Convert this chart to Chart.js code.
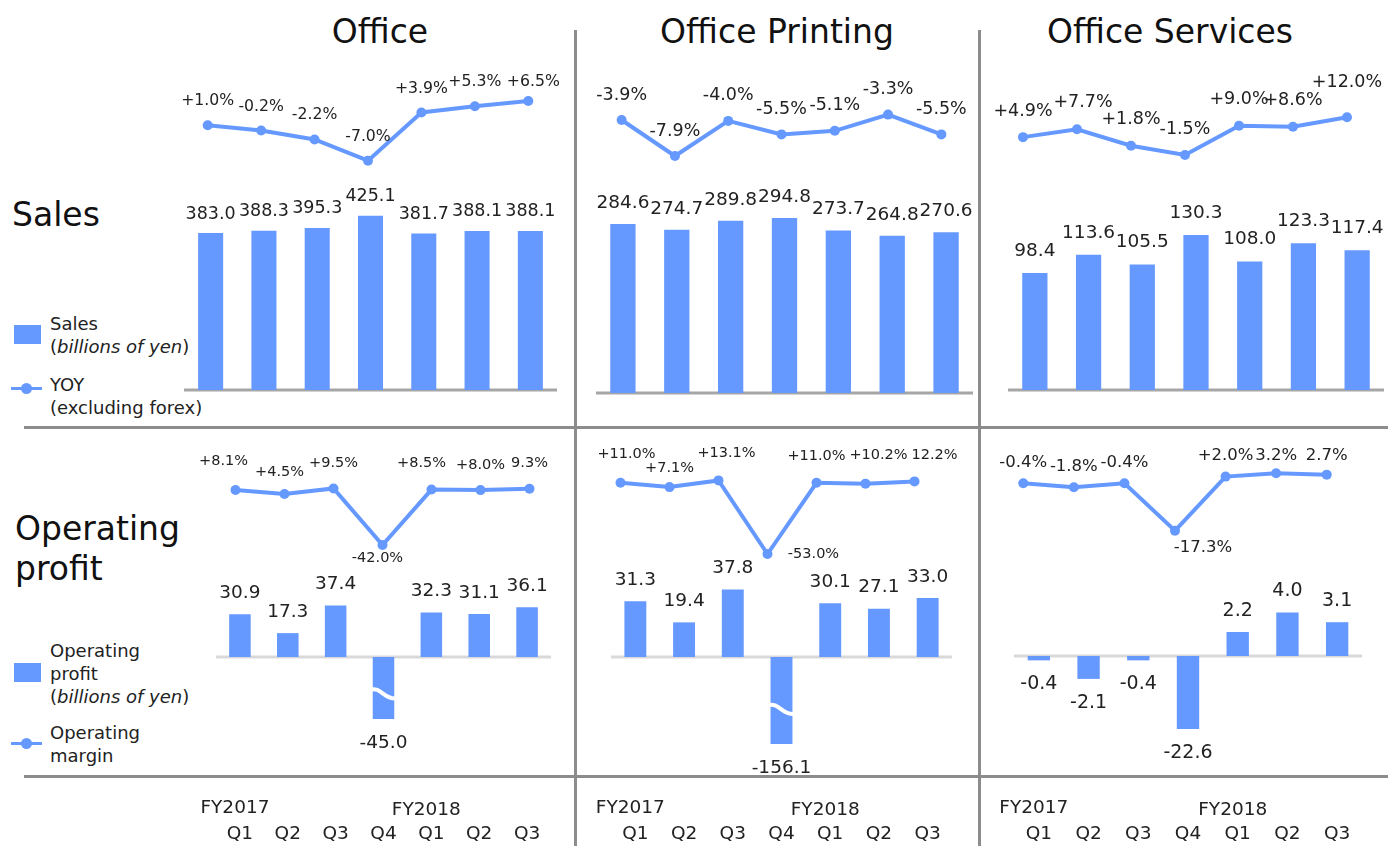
<!DOCTYPE html>
<html>
<head>
<meta charset="utf-8">
<title>Office segment results</title>
<script src="https://cdn.jsdelivr.net/npm/chart.js@4.4.1/dist/chart.umd.min.js"></script>
<style>
  html, body { margin: 0; padding: 0; background: #fff; }
  body { position: relative; width: 1388px; height: 846px; overflow: hidden; font-family: "DejaVu Sans", Verdana, sans-serif; color: #111; }
  canvas { position: absolute; }
  .txt { position: absolute; white-space: nowrap; }
  .title { font-size: 33px; line-height: 40px; width: 400px; text-align: center; top: 12px; }
  .rowlabel { font-size: 33px; line-height: 40px; }
  .legend { font-size: 18px; line-height: 23px; color: #222; left: 50px; }
  .rule { position: absolute; background: #8c8c8c; }
  .swatch { position: absolute; left: 14px; width: 27px; height: 19px; background: #6699ff; }
  .mline { position: absolute; left: 11px; width: 31px; height: 3px; background: #6699ff; }
  .mdot { position: absolute; left: 21px; width: 11px; height: 11px; border-radius: 50%; background: #6699ff; }
</style>
</head>
<body>
<!-- frame lines -->
<div class="rule" style="left:574px;top:30px;width:3px;height:816px"></div>
<div class="rule" style="left:978px;top:30px;width:3px;height:816px"></div>
<div class="rule" style="left:24px;top:426px;width:1364px;height:3px"></div>
<div class="rule" style="left:24px;top:775px;width:1364px;height:3px"></div>

<div id="titles"></div>

<div class="txt rowlabel" style="left:12px;top:195px">Sales</div>
<div class="txt rowlabel" style="left:15px;top:509px">Operating<br>profit</div>

<!-- legends -->
<div class="swatch" style="top:325px"></div>
<div class="txt legend" style="top:312px">Sales<br>(<i>billions of yen</i>)</div>
<div class="mline" style="top:387px"></div>
<div class="mdot" style="top:383px"></div>
<div class="txt legend" style="top:373px">YOY<br>(excluding forex)</div>

<div class="swatch" style="top:663px"></div>
<div class="txt legend" style="top:639px">Operating<br>profit<br>(<i>billions of yen</i>)</div>
<div class="mline" style="top:742px"></div>
<div class="mdot" style="top:738px"></div>
<div class="txt legend" style="top:721px">Operating<br>margin</div>

<script>
// ---- data ----
var segments = ['Office', 'Office Printing', 'Office Services'];
var quarters = ['Q1', 'Q2', 'Q3', 'Q4', 'Q1', 'Q2', 'Q3'];
var fiscalYears = ['FY2017', 'FY2018'];
var fiscalYearStart = [0, 4];

var officeSales = [383.0, 388.3, 395.3, 425.1, 381.7, 388.1, 388.1];
var officeSalesYoy = [1.0, -0.2, -2.2, -7.0, 3.9, 5.3, 6.5];
var printingSales = [284.6, 274.7, 289.8, 294.8, 273.7, 264.8, 270.6];
var printingSalesYoy = [-3.9, -7.9, -4.0, -5.5, -5.1, -3.3, -5.5];
var servicesSales = [98.4, 113.6, 105.5, 130.3, 108.0, 123.3, 117.4];
var servicesSalesYoy = [4.9, 7.7, 1.8, -1.5, 9.0, 8.6, 12.0];

var officeProfit = [30.9, 17.3, 37.4, -45.0, 32.3, 31.1, 36.1];
var officeMargin = [8.1, 4.5, 9.5, -42.0, 8.5, 8.0, 9.3];
var printingProfit = [31.3, 19.4, 37.8, -156.1, 30.1, 27.1, 33.0];
var printingMargin = [11.0, 7.1, 13.1, -53.0, 11.0, 10.2, 12.2];
var servicesProfit = [-0.4, -2.1, -0.4, -22.6, 2.2, 4.0, 3.1];
var servicesMargin = [-0.4, -1.8, -0.4, -17.3, 2.0, 3.2, 2.7];

var BLUE = '#6699ff';
var FONT = '"DejaVu Sans", Verdana, sans-serif';
var PAD_X = 40;

// titles
var titleCenters = [380, 777, 1170];
segments.forEach(function (s, i) {
  var d = document.createElement('div');
  d.className = 'txt title';
  d.style.left = (titleCenters[i] - 200) + 'px';
  d.textContent = s;
  document.body.appendChild(d);
});

function addCanvas(left, top, width, height) {
  var cv = document.createElement('canvas');
  cv.width = Math.round(width);
  cv.height = Math.round(height);
  cv.style.left = Math.round(left) + 'px';
  cv.style.top = Math.round(top) + 'px';
  cv.style.width = Math.round(width) + 'px';
  cv.style.height = Math.round(height) + 'px';
  document.body.appendChild(cv);
  return cv;
}

function pct(v, plain) {
  return (v > 0 && !plain ? '+' : '') + v.toFixed(1) + '%';
}

// bars with value labels, zero line, optional break mark and quarter axis
function barChart(p) {
  var canvasTop = Math.round(p.top - p.padT);
  var cv = addCanvas(p.l - PAD_X, canvasTop, p.r - p.l + 2 * PAD_X, p.bottom - p.top + p.padT + p.padB);

  var decor = {
    id: 'barDecor',
    beforeDatasetsDraw: function (chart) {
      var ctx = chart.ctx, a = chart.chartArea;
      var y0 = chart.scales.y.getPixelForValue(0);
      ctx.save();
      ctx.strokeStyle = p.axisColor;
      ctx.lineWidth = p.axisWidth;
      ctx.beginPath();
      ctx.moveTo(a.left + p.inset, y0);
      ctx.lineTo(a.right - p.inset, y0);
      ctx.stroke();
      ctx.restore();
    },
    afterDatasetsDraw: function (chart) {
      var ctx = chart.ctx, a = chart.chartArea;
      var meta = chart.getDatasetMeta(0);
      ctx.save();
      if (p.breakAt != null) {
        var b = meta.data[p.breakAt];
        var bl = b.x - b.width / 2 - 2, br = b.x + b.width / 2 + 2;
        var bEnd = Math.min(b.y, a.bottom);
        var yb = b.base + (bEnd - b.base) * 0.62;
        ctx.strokeStyle = '#fff';
        ctx.lineWidth = 4;
        ctx.beginPath();
        ctx.moveTo(bl, yb - 6);
        ctx.bezierCurveTo(bl + (br - bl) * 0.45, yb - 8, bl + (br - bl) * 0.5, yb + 4, br, yb + 3);
        ctx.stroke();
      }
      ctx.fillStyle = '#222';
      ctx.font = p.size + 'px ' + FONT;
      ctx.textAlign = 'center';
      ctx.textBaseline = 'middle';
      meta.data.forEach(function (el, i) {
        var v = p.values[i];
        if (v >= 0) {
          ctx.fillText(v.toFixed(1), el.x, el.y - p.up);
        } else {
          ctx.fillText(v.toFixed(1), el.x, Math.min(el.y, a.bottom) + p.down);
        }
      });
      if (p.axisLabels) {
        var xs = chart.scales.x;
        ctx.font = '18.5px ' + FONT;
        quarters.forEach(function (q, i) {
          ctx.fillText(q, xs.getPixelForValue(i), 834 - canvasTop);
        });
        fiscalYears.forEach(function (fy, j) {
          ctx.fillText(fy, xs.getPixelForValue(fiscalYearStart[j]) - 5, (j === 0 ? 808 : 810) - canvasTop);
        });
      }
      ctx.restore();
    }
  };

  return new Chart(cv, {
    type: 'bar',
    data: {
      labels: quarters,
      datasets: [{
        data: p.values,
        backgroundColor: BLUE,
        borderWidth: 0,
        clip: 0,
        categoryPercentage: 1,
        barPercentage: p.barPct
      }]
    },
    options: {
      responsive: false,
      animation: false,
      events: [],
      layout: { padding: { left: PAD_X, right: PAD_X, top: p.padT, bottom: p.padB } },
      plugins: { legend: { display: false }, tooltip: { enabled: false } },
      scales: {
        x: { display: false, offset: true },
        y: { display: false, min: (p.zeroY - p.bottom) / p.k, max: (p.zeroY - p.top) / p.k }
      }
    },
    plugins: [decor]
  });
}

// percentage line with labels
function lineChart(p) {
  var cv = addCanvas(p.l - PAD_X, p.top - p.padT, p.r - p.l + 2 * PAD_X, p.bottom - p.top + p.padT + p.padB);
  var labels = {
    id: 'lineLabels',
    afterDatasetsDraw: function (chart) {
      var ctx = chart.ctx;
      var meta = chart.getDatasetMeta(0);
      ctx.save();
      ctx.fillStyle = '#222';
      ctx.font = p.size + 'px ' + FONT;
      ctx.textAlign = 'center';
      ctx.textBaseline = 'middle';
      meta.data.forEach(function (el, i) {
        var s = (p.shift && p.shift[i]) || [0, -p.up];
        var plain = p.plain && p.plain.indexOf(i) >= 0;
        ctx.fillText(pct(p.values[i], plain), el.x + s[0], el.y + s[1]);
      });
      ctx.restore();
    }
  };
  return new Chart(cv, {
    type: 'line',
    data: {
      labels: quarters,
      datasets: [{
        data: p.values,
        borderColor: BLUE,
        backgroundColor: BLUE,
        borderWidth: 4,
        pointRadius: 5,
        pointBackgroundColor: BLUE,
        pointBorderColor: BLUE,
        pointBorderWidth: 0,
        tension: 0,
        clip: false
      }]
    },
    options: {
      responsive: false,
      animation: false,
      events: [],
      layout: { padding: { left: PAD_X, right: PAD_X, top: p.padT, bottom: p.padB } },
      plugins: { legend: { display: false }, tooltip: { enabled: false } },
      scales: {
        x: { display: false, offset: true },
        y: { display: false, min: (p.zeroY - p.bottom) / p.k, max: (p.zeroY - p.top) / p.k }
      }
    },
    plugins: [labels]
  });
}

// ---- sales row ----
var salesBars = [
  { values: officeSales, l: 184.3, r: 557.7, zeroY: 390, k: 0.41, size: 17.5, up: 19 },
  { values: printingSales, l: 596, r: 973, zeroY: 393, k: 0.594, size: 18.5, up: 21 },
  { values: servicesSales, l: 1008, r: 1384, zeroY: 390, k: 1.19, size: 18.5, up: 22 }
];
salesBars.forEach(function (p) {
  p.top = 190; p.bottom = p.zeroY + 2; p.padT = 40; p.padB = 8;
  p.barPct = 0.47; p.inset = 0; p.axisColor = '#a6a6a6'; p.axisWidth = 3;
  barChart(p);
});

var salesLines = [
  { values: officeSalesYoy, l: 181, r: 555, zeroY: 129.7, k: 4.42, size: 15.7, up: 24, shift: { 6: [5, -19] } },
  { values: printingSalesYoy, l: 595, r: 968.4, zeroY: 84.9, k: 9, size: 17.5, up: 25 },
  { values: servicesSalesYoy, l: 995.7, r: 1373.7, zeroY: 150.8, k: 2.79, size: 17.5, up: 26, shift: { 1: [6, -27], 6: [0, -35] } }
];
salesLines.forEach(function (p) {
  p.top = 70; p.bottom = 180; p.padT = 50; p.padB = 10;
  lineChart(p);
});

// ---- operating profit row ----
var profitBars = [
  { values: officeProfit, l: 216, r: 551, zeroY: 657, k: 1.38, bottom: 722, size: 18.5, breakAt: 3 },
  { values: printingProfit, l: 610.6, r: 951.4, zeroY: 657, k: 1.785, bottom: 744, size: 18.5, breakAt: 3 },
  { values: servicesProfit, l: 1014, r: 1362, zeroY: 656, k: 10.9, bottom: 729, size: 19 }
];
profitBars.forEach(function (p) {
  p.top = 575; p.padT = 30; p.padB = 846 - p.bottom;
  p.up = 21; p.down = 24; p.barPct = 0.45; p.inset = 0;
  p.axisColor = '#d9d9d9'; p.axisWidth = 3; p.axisLabels = true;
  barChart(p);
});

var marginLines = [
  { values: officeMargin, l: 211.2, r: 554.5, zeroY: 498.9, k: 1.098, size: 14.5, up: 25, plain: [6],
    shift: { 0: [-12, -29], 1: [-5, -22], 3: [-5, 13], 4: [-10, -26] } },
  { values: printingMargin, l: 595.5, r: 938.8, zeroY: 495, k: 1.114, size: 14.5, up: 27, plain: [6],
    shift: { 0: [6, -29], 1: [0, -19], 2: [8, -27], 3: [46, 0], 5: [13, -28], 6: [20, -26] } },
  { values: servicesMargin, l: 997.7, r: 1352, zeroY: 482.2, k: 2.805, size: 16.5, up: 21, plain: [5, 6],
    shift: { 3: [28, 17], 5: [0, -18], 6: [0, -19] } }
];
marginLines.forEach(function (p) {
  p.top = 465; p.bottom = 560; p.padT = 40; p.padB = 20;
  lineChart(p);
});
</script>
</body>
</html>
